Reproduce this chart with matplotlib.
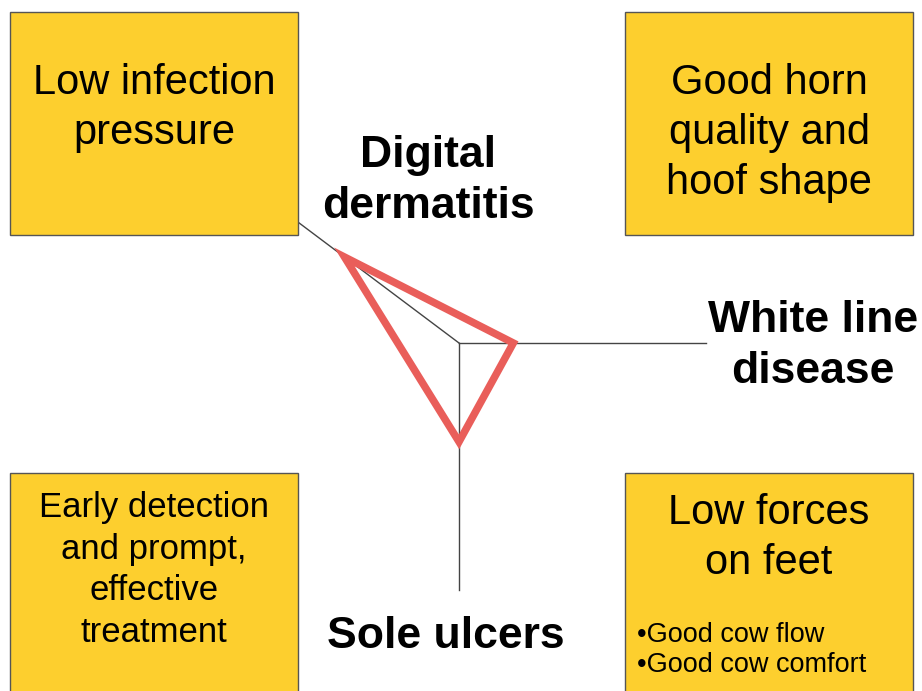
import numpy as np
import matplotlib.pyplot as plt
from matplotlib.patches import Rectangle

plt.rcParams['font.family'] = ['Liberation Sans', 'DejaVu Sans']

# radar axes (angle in degrees, screen coords with y downwards) and scores 0..1
axis_names = ['Digital\ndermatitis', 'White line\ndisease', 'Sole ulcers']
axis_angles = [216.9, 0.0, 90.0]
scores = [0.58, 0.22, 0.40]

# corner boxes: text and font size
box_texts = ['Low infection\npressure', 'Good horn\nquality and\nhoof shape',
             'Early detection\nand prompt,\neffective\ntreatment', 'Low forces\non feet']
bullets = ['\u2022Good cow flow', '\u2022Good cow comfort']

W, H = 922, 691
fig = plt.figure(figsize=(W / 100, H / 100), dpi=100)
ax = fig.add_axes([0, 0, 1, 1])
ax.set_xlim(0, W)
ax.set_ylim(H, 0)
ax.axis('off')

yellow = '#FDCF2E'
edge = '#555555'
cx, cy, R = 459, 343, 247

# axis lines
ang = np.radians(axis_angles)
for a in ang:
    ax.plot([cx, cx + R * np.cos(a)], [cy, cy + R * np.sin(a)], color='#444444', lw=1.0, zorder=1)

# score triangle
px = cx + R * np.array(scores) * np.cos(ang)
py = cy + R * np.array(scores) * np.sin(ang)
ax.fill(px, py, fill=False, edgecolor='#E95E5A', lw=5.4, joinstyle='miter', zorder=3)

# boxes
boxes = [(10, 12, 288, 223), (625, 12, 288, 223), (10, 473, 288, 240), (625, 473, 288, 240)]
for (x0, y0, w, h) in boxes:
    ax.add_patch(Rectangle((x0, y0), w, h, facecolor=yellow, edgecolor=edge, lw=1.0, zorder=2))

ax.text(154, 108, box_texts[0], ha='center', va='center', fontsize=30, linespacing=1.33, zorder=4)
ax.text(769, 133, box_texts[1], ha='center', va='center', fontsize=30, linespacing=1.33, zorder=4)
ax.text(154, 570, box_texts[2], ha='center', va='center', fontsize=25, linespacing=1.33, zorder=4)
ax.text(769, 538, box_texts[3], ha='center', va='center', fontsize=30, linespacing=1.33, zorder=4)
ax.text(637, 650, '\n'.join(bullets), ha='left', va='center', fontsize=19.5, linespacing=1.2, zorder=4)

# axis labels
ax.text(428, 181, axis_names[0], ha='center', va='center', fontsize=32, weight='bold', linespacing=1.3, zorder=4)
ax.text(813, 346, axis_names[1], ha='center', va='center', fontsize=32, weight='bold', linespacing=1.3, zorder=4)
ax.text(446, 636, axis_names[2], ha='center', va='center', fontsize=32, weight='bold', zorder=4)

fig.savefig('out.png', dpi=100)
